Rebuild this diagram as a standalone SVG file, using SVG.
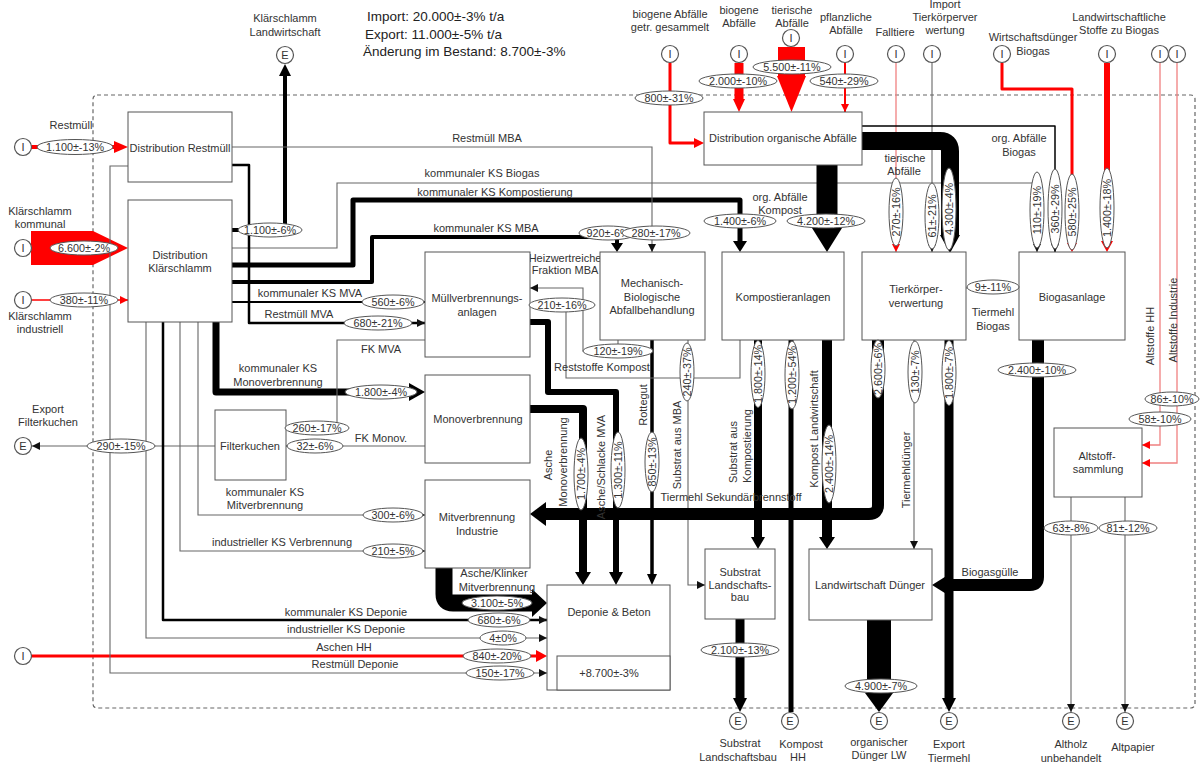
<svg xmlns="http://www.w3.org/2000/svg" width="1203" height="764" viewBox="0 0 1203 764">
<style>
text{font-family:"Liberation Sans",Arial,sans-serif;font-size:11px;fill:#333;text-anchor:middle;dominant-baseline:central}
.stat{font-size:13.5px;text-anchor:start;fill:#222}
.box{fill:#fff;stroke:#555;stroke-width:1}
.io{fill:#fff;stroke:#555;stroke-width:1.2}
.g{fill:none;stroke:#666;stroke-width:1.1}
.k{fill:none;stroke:#000;stroke-linejoin:round}
.r{fill:none;stroke:#f00;stroke-linejoin:round}
.p{fill:none;stroke:#f08080;stroke-width:1.3}
.kf{fill:#000}
.rf{fill:#f00}
.fl ellipse{fill:#fff;stroke:#555;stroke-width:1}
.fl text{font-size:10.8px}
.bnd{fill:none;stroke:#666;stroke-width:1.2;stroke-dasharray:4 3}
</style>
<defs>
<marker id="ak" viewBox="0 0 10 10" refX="10" refY="5" markerWidth="8" markerHeight="8" markerUnits="userSpaceOnUse" orient="auto"><path d="M0,0L10,5L0,10z" fill="#111"/></marker>
<marker id="ar" viewBox="0 0 10 10" refX="10" refY="5" markerWidth="8" markerHeight="8" markerUnits="userSpaceOnUse" orient="auto"><path d="M0,0L10,5L0,10z" fill="#f00"/></marker>
</defs>

<rect id="boundary" class="bnd" x="93" y="95" width="1102" height="613" rx="4"/>

<g id="stats">
<text class="stat" x="367" y="16">Import: 20.000±-3% t/a</text>
<text class="stat" x="365" y="34">Export: 11.000±-5% t/a</text>
<text class="stat" x="363" y="51">Änderung im Bestand: 8.700±-3%</text>
</g>

<g id="connectors">
<path class="r" stroke-width="4" d="M31,147H118"/><polygon class="rf" points="114,141 128,147 114,153"/>
<polygon class="rf" points="31,231 93,231 128,248 93,265 31,265"/>
<path class="r" stroke-width="1.5" d="M31,300H128" marker-end="url(#ar)"/>
<path class="g" d="M215,446H32" marker-end="url(#ak)"/>
<path class="r" stroke-width="3" d="M31,656H540"/><polygon class="rf" points="536,650 547,656 536,662"/>
<path class="k" stroke-width="4" d="M232,230H285V74"/><polygon class="kf" points="279,76 291,76 285,64"/>
<path class="g" d="M232,248H337V183H1037V252" marker-end="url(#ak)"/>
<path class="k" stroke-width="5" d="M232,265H353V200H740V242"/><polygon class="kf" points="733,241 747,241 740,252"/>
<path class="k" stroke-width="4" d="M232,282H372V237H617V244"/><polygon class="kf" points="611,243 623,243 617,252"/>
<path class="k" stroke-width="1.8" d="M232,302H425" marker-end="url(#ak)"/>
<path class="k" stroke-width="2.5" d="M232,165H249V323H425" marker-end="url(#ak)"/>
<path class="g" d="M232,147H652V252" marker-end="url(#ak)"/>
<path class="g" d="M128,166H110V673H547" marker-end="url(#ak)"/>
<path class="k" stroke-width="7" d="M216,322V392H412"/><polygon class="kf" points="409,383 409,401 425,392"/>
<path class="g" d="M198,322V515H425" marker-end="url(#ak)"/>
<path class="g" d="M180,322V551H425" marker-end="url(#ak)"/>
<path class="k" stroke-width="2.5" d="M163,322V620H547" marker-end="url(#ak)"/>
<path class="g" d="M146,322V638H547" marker-end="url(#ak)"/>
<path class="g" d="M425,340H337V428H286" marker-end="url(#ak)"/>
<path class="g" d="M425,446H286" marker-end="url(#ak)"/>
<path class="k" stroke-width="8" d="M530,409H583V574"/><polygon class="kf" points="575,572 591,572 583,585"/>
<path class="k" stroke-width="6" d="M530,322H548V392H616V574"/><polygon class="kf" points="609,572 623,572 616,585"/>
<path class="k" stroke-width="17" d="M444,568V594Q444,603 453,603H534"/><polygon class="kf" points="532,589 532,617 547,603"/>
<path class="k" stroke-width="3.5" d="M652,340V575"/><polygon class="kf" points="647,574 657,574 652,585"/>
<path class="g" d="M688,340V585H705" marker-end="url(#ak)"/>
<path class="g" d="M618,340V351H583V288H530" marker-end="url(#ak)"/>
<path class="g" d="M740,340V378H566V305"/>
<path class="k" stroke-width="12" d="M878,340V505Q878,514 869,514H545"/><polygon class="kf" points="546,502 546,526 530,514"/>
<path class="k" stroke-width="8" d="M758,340V538"/><polygon class="kf" points="751,537 765,537 758,549"/>
<path class="k" stroke-width="5" d="M791,340V712"/>
<path class="k" stroke-width="10" d="M827,340V538"/><polygon class="kf" points="819,537 835,537 827,549"/>
<path class="g" d="M914,340V549" marker-end="url(#ak)"/>
<path class="k" stroke-width="9" d="M949,340V700"/><polygon class="kf" points="942,698 956,698 949,712"/>
<path class="g" d="M966,288H1019" marker-end="url(#ak)"/>
<path class="k" stroke-width="12" d="M1038,340V577Q1038,585 1030,585H946"/><polygon class="kf" points="948,575 948,595 932,585"/>
<path class="k" stroke-width="9" d="M740,619V700"/><polygon class="kf" points="733,698 747,698 740,712"/>
<path class="k" stroke-width="24" d="M879,620V695"/><polygon class="kf" points="865,693 893,693 879,712"/>
<path class="g" d="M1071,497V712" marker-end="url(#ak)"/>
<path class="g" d="M1125,497V712" marker-end="url(#ak)"/>
<path class="p" d="M1160,63V445H1142" marker-end="url(#ar)"/>
<path class="p" d="M1177,63V463H1142" marker-end="url(#ar)"/>
<path class="p" d="M896,63V252" marker-end="url(#ar)"/>
<path class="g" d="M932,63V252" marker-end="url(#ak)"/>
<path class="k" stroke-width="18" d="M862,141H940Q950,141 950,151V236"/><polygon class="kf" points="940,235 960,235 950,253"/>
<path class="k" stroke-width="1.5" d="M862,126H1055V252" marker-end="url(#ak)"/>
<path class="k" stroke-width="21" d="M827,165V230"/><polygon class="kf" points="812,228 842,228 827,252"/>
<path class="r" stroke-width="3" d="M1002,63V89H1072V244"/><polygon class="rf" points="1067,243 1077,243 1072,252"/>
<path class="r" stroke-width="6" d="M1107,63V243"/><polygon class="rf" points="1101,241 1113,241 1107,252"/>
<path class="r" stroke-width="3" d="M670,63V143H696"/><polygon class="rf" points="694,138 704,143 694,148"/>
<path class="r" stroke-width="9" d="M739,63V100"/><polygon class="rf" points="733,99 745,99 739,112"/>
<rect class="rf" x="778" y="47" width="27" height="30"/><polygon class="rf" points="777,76 806,76 791.5,112"/>
<path class="r" stroke-width="2" d="M845,63V112" marker-end="url(#ar)"/>

<g id="connector-labels">
<text x="487" y="138">Restmüll MBA</text>
<text x="482" y="173">kommunaler KS Biogas</text>
<text x="495" y="192">kommunaler KS Kompostierung</text>
<text x="486" y="228">kommunaler KS MBA</text>
<text x="310" y="293">kommunaler KS MVA</text>
<text x="299" y="314">Restmüll MVA</text>
<text x="381" y="349">FK MVA</text>
<text x="278" y="368">kommunaler KS</text>
<text x="278" y="382">Monoverbrennung</text>
<text x="381" y="438">FK Monov.</text>
<text x="265" y="492">kommunaler KS</text>
<text x="265" y="505">Mitverbrennung</text>
<text x="282" y="542">industrieller KS Verbrennung</text>
<text x="494" y="573">Asche/Klinker</text>
<text x="497" y="587">Mitverbrennung</text>
<text x="346" y="612">kommunaler KS Deponie</text>
<text x="346" y="629">industrieller KS Deponie</text>
<text x="344" y="647">Aschen HH</text>
<text x="355" y="664">Restmüll Deponie</text>
<text x="565" y="258">Heizwertreiche</text>
<text x="565" y="270">Fraktion MBA</text>
<text x="602" y="367">Reststoffe Kompost</text>
<text transform="translate(548,465) rotate(-90)">Asche</text>
<text transform="translate(563,462) rotate(-90)">Monoverbrennung</text>
<text transform="translate(601,467) rotate(-90)">Asche/Schlacke MVA</text>
<text transform="translate(643,405) rotate(-90)">Rottegut</text>
<text transform="translate(677,445) rotate(-90)">Substrat aus MBA</text>
<text transform="translate(733,452) rotate(-90)">Substrat aus</text>
<text transform="translate(747,446) rotate(-90)">Kompostierung</text>
<text transform="translate(814,429) rotate(-90)">Kompost Landwirtschaft</text>
<text x="731" y="497">Tiermehl Sekundärbrennstoff</text>
<text transform="translate(906,470) rotate(-90)">Tiermehldünger</text>
<text x="993" y="312">Tiermehl</text>
<text x="993" y="326">Biogas</text>
<text x="990" y="572">Biogasgülle</text>
<text transform="translate(1150,336) rotate(-90)">Altstoffe HH</text>
<text transform="translate(1173,320) rotate(-90)">Altstoffe Industrie</text>
<text x="780" y="197">org. Abfälle</text>
<text x="780" y="210">Kompost</text>
<text x="905" y="158">tierische</text>
<text x="904" y="171">Abfälle</text>
<text x="1019" y="138">org. Abfälle</text>
<text x="1019" y="152">Biogas</text>
</g>
</g>

<g id="nodes">
<g id="n-dist-restmuell"><rect class="box" x="128" y="112" width="104" height="70"/><text x="180" y="148">Distribution Restmüll</text></g>
<g id="n-dist-ks"><rect class="box" x="128" y="200" width="104" height="122"/><text x="180" y="255">Distribution</text><text x="180" y="268">Klärschlamm</text></g>
<g id="n-mva"><rect class="box" x="425" y="252" width="105" height="105"/><text x="477" y="298">Müllverbrennungs-</text><text x="477" y="312">anlagen</text></g>
<g id="n-mono"><rect class="box" x="425" y="375" width="105" height="88"/><text x="478" y="419">Monoverbrennung</text></g>
<g id="n-mitv"><rect class="box" x="425" y="480" width="105" height="88"/><text x="477" y="517">Mitverbrennung</text><text x="477" y="531">Industrie</text></g>
<g id="n-filterkuchen"><rect class="box" x="215" y="410" width="71" height="70"/><text x="250" y="446">Filterkuchen</text></g>
<g id="n-mba"><rect class="box" x="600" y="252" width="105" height="88"/><text x="652" y="283">Mechanisch-</text><text x="652" y="297">Biologische</text><text x="652" y="310">Abfallbehandlung</text></g>
<g id="n-kompost"><rect class="box" x="722" y="252" width="122" height="88"/><text x="783" y="297">Kompostieranlagen</text></g>
<g id="n-tkv"><rect class="box" x="862" y="252" width="104" height="88"/><text x="916" y="289">Tierkörper-</text><text x="916" y="303">verwertung</text></g>
<g id="n-biogas"><rect class="box" x="1019" y="252" width="106" height="88"/><text x="1072" y="297">Biogasanlage</text></g>
<g id="n-dist-org"><rect class="box" x="704" y="112" width="158" height="53"/><text x="783" y="138">Distribution organische Abfälle</text></g>
<g id="n-altstoff"><rect class="box" x="1054" y="428" width="88" height="69"/><text x="1097" y="456">Altstoff-</text><text x="1098" y="469">sammlung</text></g>
<g id="n-substrat"><rect class="box" x="705" y="549" width="70" height="70"/><text x="740" y="572">Substrat</text><text x="740" y="585">Landschafts-</text><text x="740" y="597">bau</text></g>
<g id="n-lw-duenger"><rect class="box" x="809" y="549" width="123" height="71"/><text x="870" y="585">Landwirtschaft Dünger</text></g>
<g id="n-deponie"><rect class="box" x="547" y="585" width="123" height="105"/><text x="609" y="612">Deponie &amp; Beton</text><rect class="box" x="557" y="656" width="113" height="34"/><text x="609" y="673">+8.700±-3%</text></g>

<g id="io-ks-lw"><circle class="io" cx="285" cy="55" r="8.5"/><text x="285" y="55">E</text><text x="285" y="18">Klärschlamm</text><text x="285" y="32">Landwirtschaft</text></g>
<g id="io-restmuell"><circle class="io" cx="23" cy="147" r="8.5"/><text x="23" y="147">I</text><text x="71" y="125">Restmüll</text></g>
<g id="io-ks-komm"><circle class="io" cx="23" cy="248" r="8.5"/><text x="23" y="248">I</text><text x="40" y="211">Klärschlamm</text><text x="40" y="224">kommunal</text></g>
<g id="io-ks-ind"><circle class="io" cx="23" cy="300" r="8.5"/><text x="23" y="300">I</text><text x="40" y="316">Klärschlamm</text><text x="40" y="329">industriell</text></g>
<g id="io-export-fk"><circle class="io" cx="23" cy="446" r="8.5"/><text x="23" y="446">E</text><text x="48" y="409">Export</text><text x="48" y="422">Filterkuchen</text></g>
<g id="io-aschen-hh"><circle class="io" cx="23" cy="656" r="8.5"/><text x="23" y="656">I</text></g>
<g id="io-biogen-getr"><circle class="io" cx="670" cy="54" r="8.5"/><text x="670" y="54">I</text><text x="670" y="14">biogene Abfälle</text><text x="670" y="27">getr. gesammelt</text></g>
<g id="io-biogen"><circle class="io" cx="739" cy="54" r="8.5"/><text x="739" y="54">I</text><text x="739" y="10">biogene</text><text x="739" y="23">Abfälle</text></g>
<g id="io-tierisch"><circle class="io" cx="791" cy="38" r="8.5"/><text x="791" y="38">I</text><text x="792" y="10">tierische</text><text x="792" y="23">Abfälle</text></g>
<g id="io-pflanzlich"><circle class="io" cx="845" cy="54" r="8.5"/><text x="845" y="54">I</text><text x="846" y="17">pflanzliche</text><text x="846" y="30">Abfälle</text></g>
<g id="io-falltiere"><circle class="io" cx="896" cy="54" r="8.5"/><text x="896" y="54">I</text><text x="895" y="32">Falltiere</text></g>
<g id="io-import-tkv"><circle class="io" cx="932" cy="54" r="8.5"/><text x="932" y="54">I</text><text x="945" y="4">Import</text><text x="945" y="17">Tierkörperver</text><text x="945" y="30">wertung</text></g>
<g id="io-wirtschaftsduenger"><circle class="io" cx="1002" cy="54" r="8.5"/><text x="1002" y="54">I</text><text x="1033" y="37">Wirtschaftsdünger</text><text x="1033" y="51">Biogas</text></g>
<g id="io-lw-stoffe"><circle class="io" cx="1107" cy="54" r="8.5"/><text x="1107" y="54">I</text><text x="1119" y="17">Landwirtschaftliche</text><text x="1119" y="30">Stoffe zu Biogas</text></g>
<g id="io-altstoffe-hh"><circle class="io" cx="1160" cy="54" r="8.5"/><text x="1160" y="54">I</text></g>
<g id="io-altstoffe-ind"><circle class="io" cx="1177" cy="54" r="8.5"/><text x="1177" y="54">I</text></g>
<g id="io-substrat-lb"><circle class="io" cx="738" cy="721" r="8.5"/><text x="738" y="721">E</text><text x="740" y="743">Substrat</text><text x="738" y="757">Landschaftsbau</text></g>
<g id="io-kompost-hh"><circle class="io" cx="790" cy="721" r="8.5"/><text x="790" y="721">E</text><text x="801" y="744">Kompost</text><text x="798" y="757">HH</text></g>
<g id="io-org-duenger"><circle class="io" cx="879" cy="721" r="8.5"/><text x="879" y="721">E</text><text x="879" y="742">organischer</text><text x="879" y="755">Dünger LW</text></g>
<g id="io-export-tiermehl"><circle class="io" cx="949" cy="721" r="8.5"/><text x="949" y="721">E</text><text x="949" y="744">Export</text><text x="949" y="758">Tiermehl</text></g>
<g id="io-altholz"><circle class="io" cx="1071" cy="721" r="8.5"/><text x="1071" y="721">E</text><text x="1071" y="744">Altholz</text><text x="1071" y="758">unbehandelt</text></g>
<g id="io-altpapier"><circle class="io" cx="1125" cy="721" r="8.5"/><text x="1125" y="721">E</text><text x="1133" y="747">Altpapier</text></g>
</g>

<g id="flow-values" class="fl">
<g transform="translate(75,147)"><ellipse rx="38" ry="7.5"/><text>1.100±-13%</text></g>
<g transform="translate(84,248)"><ellipse rx="34" ry="7"/><text>6.600±-2%</text></g>
<g transform="translate(84,300)"><ellipse rx="34" ry="7"/><text>380±-11%</text></g>
<g transform="translate(121,446)"><ellipse rx="34" ry="7"/><text>290±-15%</text></g>
<g transform="translate(270,230)"><ellipse rx="32" ry="7"/><text>1.100±-6%</text></g>
<g transform="translate(393,302)"><ellipse rx="31" ry="7"/><text>560±-6%</text></g>
<g transform="translate(378,323)"><ellipse rx="34" ry="7"/><text>680±-21%</text></g>
<g transform="translate(381,392)"><ellipse rx="36" ry="7"/><text>1.800±-4%</text></g>
<g transform="translate(317,428)"><ellipse rx="32" ry="7"/><text>260±-17%</text></g>
<g transform="translate(315,446)"><ellipse rx="28" ry="7"/><text>32±-6%</text></g>
<g transform="translate(393,515)"><ellipse rx="30" ry="7"/><text>300±-6%</text></g>
<g transform="translate(393,551)"><ellipse rx="30" ry="7"/><text>210±-5%</text></g>
<g transform="translate(497,603)"><ellipse rx="35" ry="7"/><text>3.100±-5%</text></g>
<g transform="translate(499,620)"><ellipse rx="31" ry="7"/><text>680±-6%</text></g>
<g transform="translate(503,638)"><ellipse rx="23" ry="7"/><text>4±0%</text></g>
<g transform="translate(497,656)"><ellipse rx="34" ry="7"/><text>840±-20%</text></g>
<g transform="translate(500,673)"><ellipse rx="34" ry="7"/><text>150±-17%</text></g>
<g transform="translate(608,233)"><ellipse rx="29" ry="7"/><text>920±-6%</text></g>
<g transform="translate(656,233)"><ellipse rx="34" ry="7"/><text>280±-17%</text></g>
<g transform="translate(562,305)"><ellipse rx="33" ry="7"/><text>210±-16%</text></g>
<g transform="translate(618,351)"><ellipse rx="35" ry="7"/><text>120±-19%</text></g>
<g transform="translate(740,221)"><ellipse rx="36" ry="7"/><text>1.400±-6%</text></g>
<g transform="translate(826,221)"><ellipse rx="39" ry="7"/><text>4.200±-12%</text></g>
<g transform="translate(669,98)"><ellipse rx="34" ry="7"/><text>800±-31%</text></g>
<g transform="translate(738,81)"><ellipse rx="39" ry="7"/><text>2.000±-10%</text></g>
<g transform="translate(792,67)"><ellipse rx="39" ry="7"/><text>5.500±-11%</text></g>
<g transform="translate(844,81)"><ellipse rx="34" ry="7"/><text>540±-29%</text></g>
<g transform="translate(993,287)"><ellipse rx="26" ry="7"/><text>9±-11%</text></g>
<g transform="translate(1037,370)"><ellipse rx="39" ry="7"/><text>2.400±-10%</text></g>
<g transform="translate(1172,399)"><ellipse rx="27" ry="7"/><text>86±-10%</text></g>
<g transform="translate(1160,419)"><ellipse rx="31" ry="7"/><text>58±-10%</text></g>
<g transform="translate(1071,528)"><ellipse rx="27" ry="7"/><text>63±-8%</text></g>
<g transform="translate(1128,528)"><ellipse rx="29" ry="7"/><text>81±-12%</text></g>
<g transform="translate(740,650)"><ellipse rx="39" ry="7"/><text>2.100±-13%</text></g>
<g transform="translate(881,686)"><ellipse rx="36" ry="7"/><text>4.900±-7%</text></g>
<g transform="translate(896,212) rotate(-90)"><ellipse rx="34" ry="7"/><text>270±-16%</text></g>
<g transform="translate(932,216) rotate(-90)"><ellipse rx="33" ry="7"/><text>61±-21%</text></g>
<g transform="translate(949,209) rotate(-90)"><ellipse rx="41" ry="7"/><text>4.300±-4%</text></g>
<g transform="translate(1037,210) rotate(-90)"><ellipse rx="38" ry="7"/><text>110±-19%</text></g>
<g transform="translate(1055,209) rotate(-90)"><ellipse rx="40" ry="7"/><text>360±-29%</text></g>
<g transform="translate(1072,212) rotate(-90)"><ellipse rx="38" ry="7"/><text>580±-25%</text></g>
<g transform="translate(1107,208) rotate(-90)"><ellipse rx="40" ry="7"/><text>1.400±-18%</text></g>
<g transform="translate(878,369) rotate(-90)"><ellipse rx="29" ry="7"/><text>2.600±-6%</text></g>
<g transform="translate(758,374) rotate(-90)"><ellipse rx="33.5" ry="7"/><text>1.800±-14%</text></g>
<g transform="translate(792,375) rotate(-90)"><ellipse rx="34" ry="7"/><text>1.200±-54%</text></g>
<g transform="translate(829,464) rotate(-90)"><ellipse rx="39" ry="7"/><text>2.400±-14%</text></g>
<g transform="translate(915,372) rotate(-90)"><ellipse rx="31" ry="7"/><text>130±-7%</text></g>
<g transform="translate(949,373) rotate(-90)"><ellipse rx="32.5" ry="7"/><text>1.800±-7%</text></g>
<g transform="translate(687,372) rotate(-90)"><ellipse rx="29" ry="7"/><text>240±-37%</text></g>
<g transform="translate(652,462) rotate(-90)"><ellipse rx="30" ry="7"/><text>850±-13%</text></g>
<g transform="translate(618,470) rotate(-90)"><ellipse rx="38" ry="7"/><text>1.300±-11%</text></g>
<g transform="translate(581,474) rotate(-90)"><ellipse rx="36" ry="7"/><text>1.700±-4%</text></g>
</g>
</svg>
